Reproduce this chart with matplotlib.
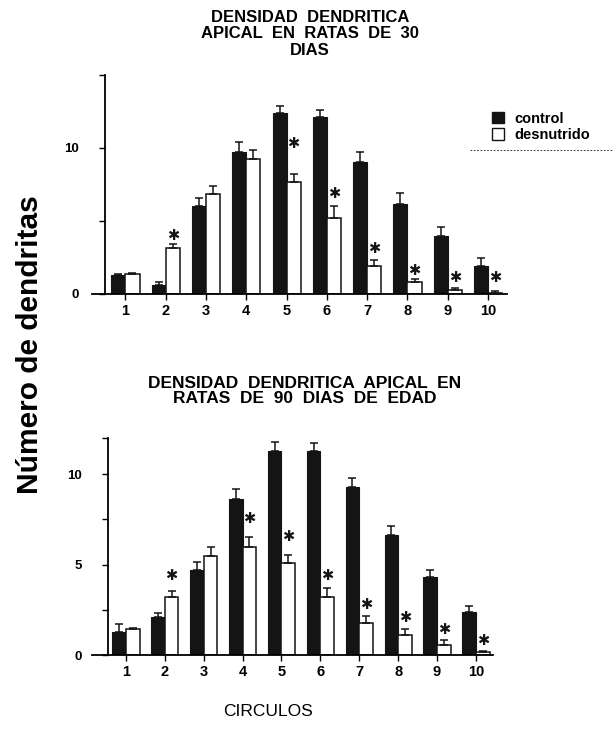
import matplotlib
matplotlib.use("Agg")
import matplotlib.pyplot as plt
import numpy as np
from matplotlib.lines import Line2D
from matplotlib.patches import Patch

# ---------------- data ----------------
circulos = [1, 2, 3, 4, 5, 6, 7, 8, 9, 10]
tick_labels = ["1", "2", "3", "4", "5", "6", "7", "8", "9", "10"]

# 30 dias
control_30 = [1.3, 0.6, 6.05, 9.7, 12.4, 12.15, 9.05, 6.15, 3.95, 1.9]
control_30_err = [0.1, 0.25, 0.55, 0.7, 0.45, 0.45, 0.7, 0.75, 0.65, 0.55]
desnut_30 = [1.4, 3.15, 6.85, 9.25, 7.65, 5.2, 1.9, 0.8, 0.27, 0.08]
desnut_30_err = [0.05, 0.25, 0.55, 0.6, 0.55, 0.8, 0.4, 0.25, 0.12, 0.1]
star_30 = [None, 4.0, None, None, 10.3, 6.9, 3.15, 1.6, 1.1, 1.1]

# 90 dias
control_90 = [1.25, 2.1, 4.7, 8.6, 11.3, 11.3, 9.3, 6.65, 4.3, 2.4]
control_90_err = [0.45, 0.25, 0.45, 0.6, 0.5, 0.4, 0.5, 0.5, 0.4, 0.3]
desnut_90 = [1.45, 3.2, 5.5, 6.0, 5.1, 3.2, 1.75, 1.1, 0.55, 0.15]
desnut_90_err = [0.05, 0.35, 0.45, 0.5, 0.45, 0.5, 0.4, 0.35, 0.28, 0.05]
star_90 = [None, 4.4, None, 7.55, 6.55, 4.4, 2.8, 2.1, 1.4, 0.8]

title_30 = "DENSIDAD  DENDRITICA\nAPICAL  EN  RATAS  DE  30\nDIAS"
title_90 = "DENSIDAD  DENDRITICA  APICAL  EN\nRATAS  DE  90  DIAS  DE  EDAD"
ylabel = "Número de dendritas"
xlabel = "CIRCULOS"
legend_labels = ["control", "desnutrido"]

# ---------------- style ----------------
plt.rcParams['font.family'] = ['Liberation Sans', 'DejaVu Sans']
DARK = "#141414"
W = 0.35

fig = plt.figure(figsize=(6.14, 7.43), dpi=100)


def draw(ax, ctrl, cerr, des, derr, stars, yl, yticks, ylabels, xl, yaxis_x):
    x = np.array(circulos, dtype=float)
    ax.bar(x - W / 2, ctrl, W, color=DARK, edgecolor=DARK, linewidth=0.8, zorder=2)
    ax.bar(x + W / 2, des, W, color="white", edgecolor=DARK, linewidth=1.1, zorder=2)
    ax.errorbar(x - W / 2, ctrl, yerr=[np.zeros(len(ctrl)), cerr], fmt="none",
                ecolor=DARK, elinewidth=1.1, capsize=3, capthick=1.1, zorder=3)
    ax.errorbar(x + W / 2, des, yerr=[np.zeros(len(des)), derr], fmt="none",
                ecolor=DARK, elinewidth=1.1, capsize=3, capthick=1.1, zorder=3)
    for xi, s in zip(x, stars):
        if s is not None:
            ax.text(xi + W / 2, s, "✱", ha="center", va="center", fontsize=10.5,
                    family=["DejaVu Sans"], color=DARK, zorder=4)
    ax.set_xlim(*xl)
    ax.set_ylim(*yl)
    ax.spines['top'].set_visible(False)
    ax.spines['right'].set_visible(False)
    ax.spines['left'].set_position(('data', yaxis_x))
    ax.spines['left'].set_linewidth(1.3)
    ax.spines['bottom'].set_linewidth(1.3)
    ax.set_yticks(yticks)
    ax.set_yticklabels(ylabels, fontsize=9.5, fontweight="bold")
    ax.tick_params(axis="y", direction="out", length=4, width=1, pad=15)
    ax.set_xticks(x)
    ax.set_xticklabels(tick_labels, fontsize=10.5, fontweight="bold")
    ax.tick_params(axis="x", direction="out", length=4, width=1, pad=3)


ax1 = fig.add_axes([92 / 614, (743 - 294) / 743, 415 / 614, 219 / 743])
draw(ax1, control_30, control_30_err, desnut_30, desnut_30_err, star_30,
     (0, 15), [0, 5, 10, 15], ["0", "", "10", ""], (0.17, 10.47), 0.49)

ax2 = fig.add_axes([92 / 614, (743 - 655) / 743, 401 / 614, 217 / 743])
draw(ax2, control_90, control_90_err, desnut_90, desnut_90_err, star_90,
     (0, 12), [0, 2.5, 5, 7.5, 10, 12], ["0", "", "5", "", "10", ""], (0.126, 10.44), 0.537)

fig.text(310 / 614, 1 - 34 / 743, title_30, ha="center", va="center",
         fontsize=12, fontweight="bold", linespacing=1.12)
fig.text(305 / 614, 1 - 391 / 743, title_90, ha="center", va="center",
         fontsize=12.5, fontweight="bold", linespacing=0.98)

fig.text(30 / 614, 1 - 345 / 743, ylabel, rotation=90, ha="center", va="center",
         fontsize=21.5, fontweight="bold",
         family=["Liberation Sans Narrow", "Liberation Sans", "DejaVu Sans"])
fig.text(268 / 614, 1 - 712 / 743, xlabel, ha="center", va="center", fontsize=12.5)

handles = [Patch(facecolor=DARK, edgecolor=DARK), Patch(facecolor="white", edgecolor=DARK)]
leg = fig.legend(handles, legend_labels, loc="center left",
                 bbox_to_anchor=(482 / 614, 1 - 127 / 743), frameon=False,
                 prop={"weight": "bold", "size": 10.5}, handlelength=0.8, handleheight=0.8,
                 handletextpad=0.7, labelspacing=0.15, borderpad=0.2)
fig.add_artist(Line2D([470 / 614, 612 / 614], [1 - 150 / 743, 1 - 150 / 743],
                      transform=fig.transFigure, color=DARK, lw=0.6, ls=(0, (2, 2))))

fig.savefig("out.png", dpi=100)
